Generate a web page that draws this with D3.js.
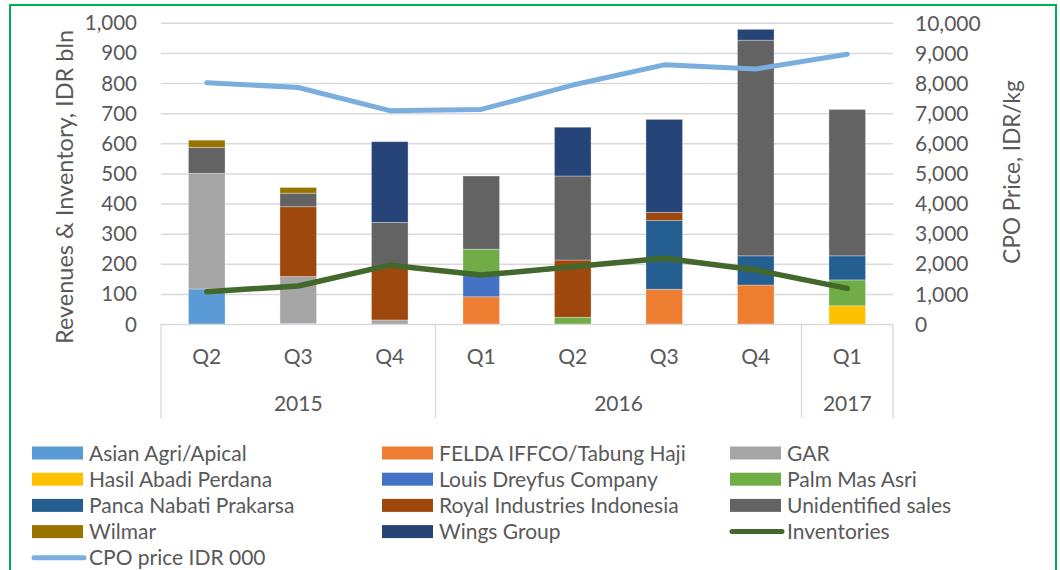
<!DOCTYPE html>
<html><head><meta charset="utf-8">
<script src="https://cdn.jsdelivr.net/npm/d3@7/dist/d3.min.js"></script>
<style>body{margin:0;background:#fff}svg{display:block;font-family:Lato,'Open Sans',sans-serif}</style>
</head><body><svg id="c" width="1060" height="570"></svg>
<script>
const quarters = ["Q2","Q3","Q4","Q1","Q2","Q3","Q4","Q1"];
const years = [{label:"2015",start:0,end:3},{label:"2016",start:3,end:7},{label:"2017",start:7,end:8}];
const seriesNames = ["Asian Agri/Apical","FELDA IFFCO/Tabung Haji","GAR","Hasil Abadi Perdana","Louis Dreyfus Company","Palm Mas Asri","Panca Nabati Prakarsa","Royal Industries Indonesia","Unidentified sales","Wilmar","Wings Group"];
const asianAgri   = [118,   4,   0,   0,   0,   0,   0,   0];
const felda       = [  0,   0,   0,  92,   0, 117, 131,   0];
const gar         = [384, 155,  15,   0,   0,   0,   0,   0];
const hasilAbadi  = [  0,   0,   0,   0,   0,   0,   0,  62];
const louisDreyfus= [  0,   0,   0,  76,   0,   0,   0,   0];
const palmMasAsri = [  0,   0,   0,  82,  24,   0,   0,  86];
const pancaNabati = [  0,   0,   0,   0,   0, 228,  97,  80];
const royal       = [  0, 232, 175,   0, 190,  27,   0,   0];
const unidentified= [ 86,  45, 149, 243, 279,   0, 716, 486];
const wilmar      = [ 24,  19,   0,   0,   0,   0,   0,   0];
const wings       = [  0,   0, 268,   0, 162, 309,  36,   0];
const inventories = [109, 128, 197, 164, 192, 220, 181, 120];
const cpoPrice    = [8030,7870,7100,7140,7950,8620,8480,8970];
const leftTicks = [0,100,200,300,400,500,600,700,800,900,1000];
const rightTicks = [0,1000,2000,3000,4000,5000,6000,7000,8000,9000,10000];

const seriesValues = [asianAgri,felda,gar,hasilAbadi,louisDreyfus,palmMasAsri,pancaNabati,royal,unidentified,wilmar,wings];
const colors = ["#5B9BD5","#ED7D31","#A5A5A5","#FFC000","#4472C4","#70AD47","#255E91","#9E480E","#636363","#997300","#264478"];
const invColor = "#43682B", cpoColor = "#7AAEDE", txt = "#595959";

const svg = d3.select("#c");
svg.append("rect").attr("x",10).attr("y",5).attr("width",1046).attr("height",620)
  .attr("fill","none").attr("stroke","#00B050").attr("stroke-width",2);

const X0=161, X1=893;
const x = d3.scaleBand().domain(d3.range(quarters.length)).range([X0,X1]).paddingInner(0.6).paddingOuter(0.3);
const y = d3.scaleLinear().domain([0,1000]).range([324.5,23.3]);
const y2 = d3.scaleLinear().domain([0,10000]).range([324.5,23.3]);

// gridlines
svg.append("g").selectAll("line").data(leftTicks.slice(1)).join("line")
  .attr("x1",X0).attr("x2",X1).attr("y1",d=>y(d)).attr("y2",d=>y(d))
  .attr("stroke","#D9D9D9").attr("stroke-width",1.5);

// left axis
const la = svg.append("g").attr("transform","translate(140,0)")
  .call(d3.axisLeft(y).tickValues(leftTicks).tickSize(0).tickPadding(3).tickFormat(d3.format(",")));
la.select(".domain").remove();
la.selectAll("text").attr("fill",txt).style("font-size","20.5px").style("font-family","Lato");
const ra = svg.append("g").attr("transform","translate(912,0)")
  .call(d3.axisRight(y2).tickValues(rightTicks).tickSize(0).tickPadding(3).tickFormat(d3.format(",")));
ra.select(".domain").remove();
ra.selectAll("text").attr("fill",txt).style("font-size","21px").style("font-family","Lato");

// axis titles
svg.append("text").attr("transform","translate(73,187) rotate(-90)").attr("text-anchor","middle")
  .attr("fill",txt).style("font-size","23.5px").text("Revenues & Inventory, IDR bln");
svg.append("text").attr("transform","translate(1020,172) rotate(-90)").attr("text-anchor","middle")
  .attr("fill",txt).style("font-size","22.5px").text("CPO Price, IDR/kg");

// stacked bars
const rows = quarters.map((q,i)=>{const r={i}; seriesNames.forEach((s,k)=>r[s]=seriesValues[k][i]); return r;});
const stack = d3.stack().keys(seriesNames)(rows);
const bars = svg.append("g");
stack.forEach((layer,k)=>{
  bars.selectAll(null).data(layer.filter(d=>d[1]-d[0]>0)).join("rect")
    .attr("x",d=>x(d.data.i)).attr("width",x.bandwidth())
    .attr("y",d=>y(d[1])).attr("height",d=>y(d[0])-y(d[1]))
    .attr("fill",colors[k]).attr("stroke","#ffffff").attr("stroke-opacity",0.4).attr("stroke-width",0.8);
});

// category axis
const cat = svg.append("g").attr("stroke","#D9D9D9").attr("stroke-width",1.3);
cat.append("line").attr("x1",X0).attr("x2",X1).attr("y1",y(0)).attr("y2",y(0));
const seps = [0].concat(years.map(yy=>yy.end));
cat.selectAll(null).data(seps).join("line")
  .attr("x1",d=>d===quarters.length?X1:(d===0?X0:x(d)-x.step()*x.paddingInner()/2))
  .attr("x2",d=>d===quarters.length?X1:(d===0?X0:x(d)-x.step()*x.paddingInner()/2))
  .attr("y1",y(0)).attr("y2",418);
svg.append("g").selectAll("text").data(quarters).join("text")
  .attr("x",(d,i)=>x(i)+x.bandwidth()/2).attr("y",364).attr("text-anchor","middle")
  .attr("fill",txt).style("font-size","21px").text(d=>d);
svg.append("g").selectAll("text").data(years).join("text")
  .attr("x",d=>(x(d.start)+x(d.end-1)+x.bandwidth())/2).attr("y",411).attr("text-anchor","middle")
  .attr("fill",txt).style("font-size","21px").text(d=>d.label);

// lines
const line = d3.line().x((d,i)=>x(i)+x.bandwidth()/2);
svg.append("path").datum(cpoPrice).attr("d",line.y(d=>y2(d))).attr("fill","none")
  .attr("stroke",cpoColor).attr("stroke-width",5).attr("stroke-linecap","round").attr("stroke-linejoin","round");
svg.append("path").datum(inventories).attr("d",line.y(d=>y(d))).attr("fill","none")
  .attr("stroke",invColor).attr("stroke-width",5.5).attr("stroke-linecap","round").attr("stroke-linejoin","round");

// legend
const legendItems = seriesNames.map((s,k)=>({name:s,color:colors[k],type:"rect"}))
  .concat([{name:"Inventories",color:invColor,type:"line"},{name:"CPO price IDR 000",color:cpoColor,type:"line"}]);
const colX = [32,382,730], rowY0 = 453, rowH = 26.2;
const lg = svg.append("g");
legendItems.forEach((it,k)=>{
  const cx = colX[k%3], cy = rowY0 + Math.floor(k/3)*rowH;
  if(it.type==="rect") lg.append("rect").attr("x",cx).attr("y",cy-6.5).attr("width",51).attr("height",13).attr("fill",it.color);
  else lg.append("line").attr("x1",cx+2).attr("x2",cx+52).attr("y1",cy).attr("y2",cy).attr("stroke",it.color).attr("stroke-width",5).attr("stroke-linecap","round");
  lg.append("text").attr("x",cx+57).attr("y",cy+7.5).attr("fill",txt).style("font-size","21px").text(it.name);
});
</script></body></html>
